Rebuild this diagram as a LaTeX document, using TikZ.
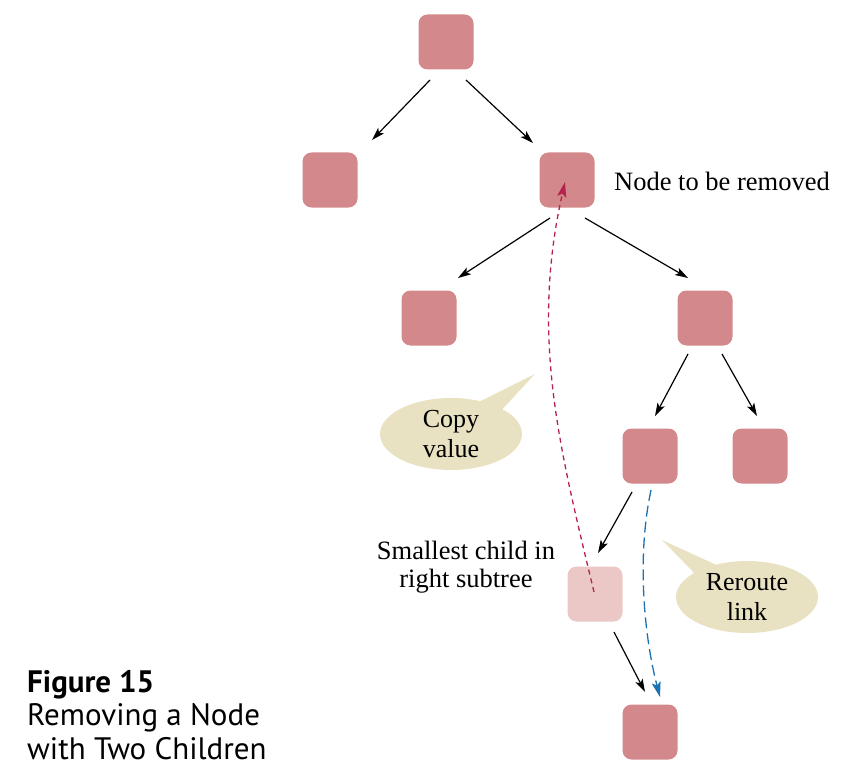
\documentclass[tikz,border=0pt]{standalone}
\usepackage{fontspec}
\setmainfont{Liberation Serif}
\newfontfamily\capfont{PT Sans}
\usetikzlibrary{shapes.callouts,arrows.meta,calc}
\definecolor{nodefill}{HTML}{D3898B}
\definecolor{lightfill}{HTML}{EBC8C5}
\definecolor{bubblefill}{HTML}{E8E2C2}
\definecolor{copyred}{HTML}{B42250}
\definecolor{rerouteblue}{HTML}{1C72B0}
\begin{document}
\begin{tikzpicture}[x=1pt,y=-1pt,
  tnode/.style={rectangle, rounded corners=9pt, fill=nodefill, minimum width=55pt, minimum height=55pt, inner sep=0pt},
  lightnode/.style={tnode, fill=lightfill},
  link/.style={line width=1.2pt, -{Stealth[length=13pt,width=8pt,inset=3pt]}},
  serif/.style={font=\fontsize{26.5}{28}\selectfont, align=center, inner sep=0pt},
  bubble/.style={ellipse callout, fill=bubblefill, minimum width=142pt, minimum height=72pt, inner sep=0pt, callout pointer arc=22, font=\fontsize{26}{30}\selectfont, align=center},
  copyline/.style={draw=copyred, line width=1.3pt, dash pattern=on 5pt off 4pt, -{Stealth[length=15pt,width=9pt,inset=3pt]}},
  rerouteline/.style={draw=rerouteblue, line width=1.3pt, dash pattern=on 11pt off 5pt, -{Stealth[length=15pt,width=9pt,inset=3pt]}},
  caption/.style={font=\capfont\fontsize{31}{33}\selectfont, anchor=base west, inner sep=0pt}
]
\useasboundingbox (0,0) rectangle (856,778);

\node[tnode] (root) at (446,42) {};
\node[tnode] (l1) at (330,180) {};
\node[tnode] (r1) at (567,180) {};
\node[tnode] (l2) at (429,318) {};
\node[tnode] (r2) at (705,318) {};
\node[tnode] (l3) at (650,456) {};
\node[tnode] (r3) at (760,456) {};
\node[lightnode] (small) at (595,594) {};
\node[tnode] (bottom) at (650,732) {};

\draw[link] ($(root)+(-16,38)$) -- ($(l1)+(42,-40)$);
\draw[link] ($(root)+(20,38)$) -- ($(r1)+(-34,-37)$);
\draw[link] ($(r1)+(-17,38)$) -- ($(l2)+(29,-40)$);
\draw[link] ($(r1)+(18,38)$) -- ($(r2)+(-17,-40)$);
\draw[link] ($(r2)+(-17,36)$) -- ($(l3)+(5,-40)$);
\draw[link] ($(r2)+(17,36)$) -- ($(r3)+(-3,-40)$);
\draw[link] ($(l3)+(-18,36)$) -- ($(small)+(3,-41)$);
\draw[link] ($(small)+(19,38)$) -- ($(bottom)+(-5,-40)$);

\draw[copyline] ($(small)+(-1,-2)$) .. controls (560,450) and (530,337) .. ($(r1)+(-2,2)$);
\coordinate (rtarget) at ($(bottom)+(10,-35)$);
\draw[rerouteline] ($(l3)+(1,34)$) .. controls (636,560) and (645,640) .. (rtarget);

\node[bubble, callout absolute pointer={(535,374)}] (copy) at (451,434) {Copy\\value};
\node[bubble, callout absolute pointer={(662,540)}] (reroute) at (747,597) {Reroute\\link};

\node[serif, anchor=base west] (removelabel) at (614,190) {Node to be removed};
\node[serif, anchor=base] (smalllabel) at (466,587) {Smallest child in\\right subtree};

\node[caption] (fig) at (27,692) {\bfseries Figure 15};
\node[caption] (cap1) at (27,725) {Removing a Node};
\node[caption] (cap2) at (27,759) {with Two Children};
\end{tikzpicture}
\end{document}
